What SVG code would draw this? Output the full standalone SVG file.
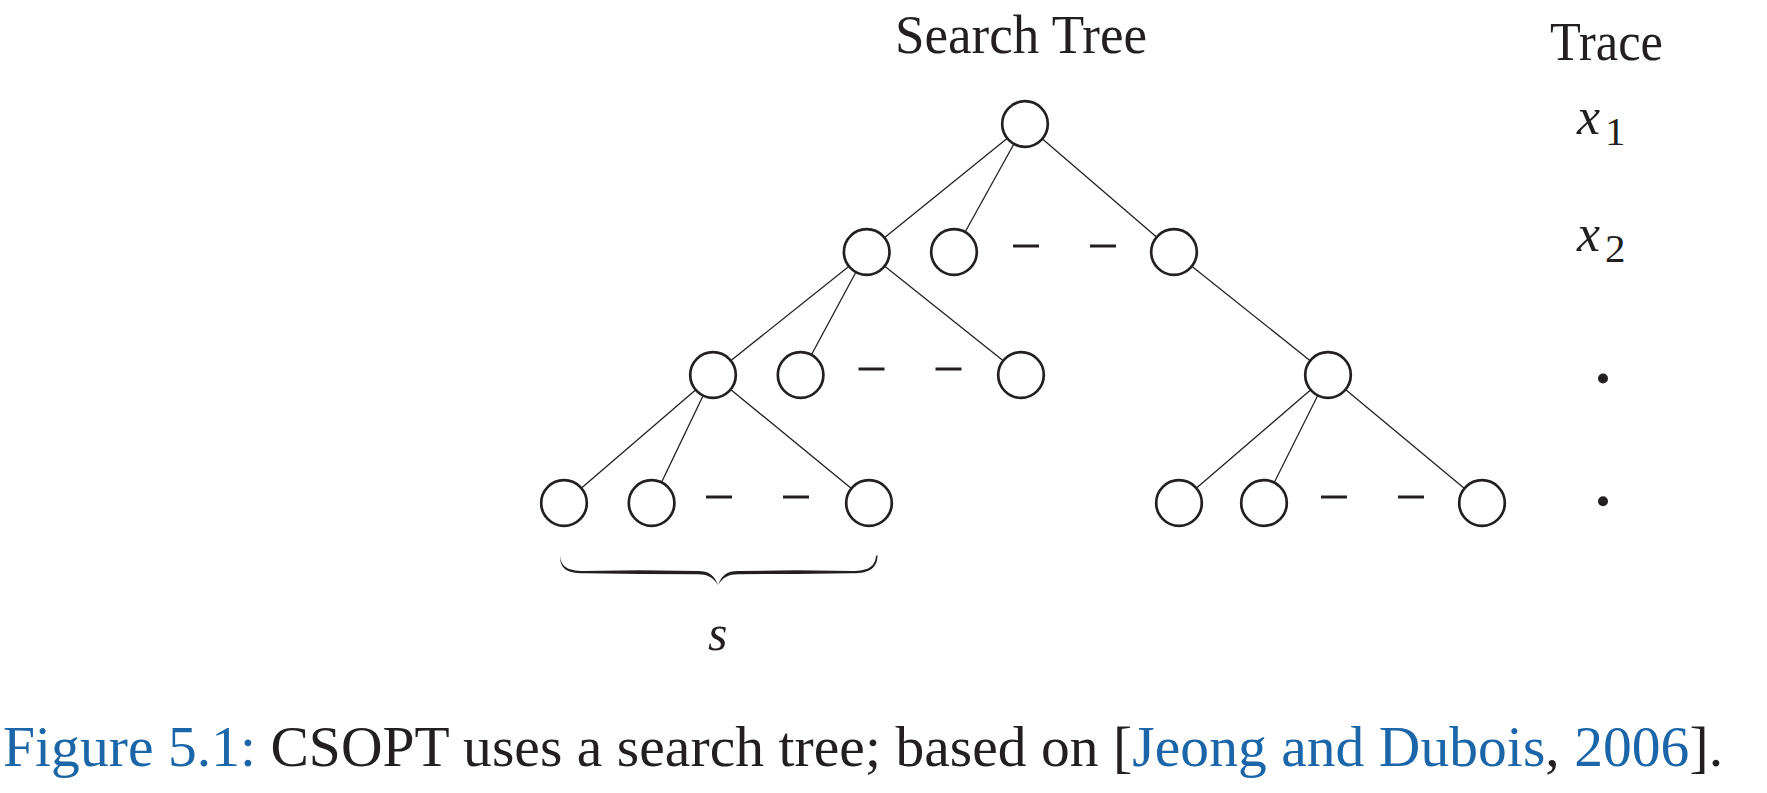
<svg xmlns="http://www.w3.org/2000/svg" width="1767" height="793" viewBox="0 0 1767 793">
  <style>
    .node { fill: #ffffff; stroke: #231f20; stroke-width: 2.7; }
    .edge { stroke: #231f20; stroke-width: 1.3; fill: none; }
    .dash { stroke: #231f20; stroke-width: 3; }
    .serif { font-family: "Liberation Serif", "Times New Roman", serif; fill: #231f20; }
    .math { font-family: "Liberation Serif", "Times New Roman", serif; font-style: italic; fill: #231f20; }
    .sub { font-family: "Liberation Serif", "Times New Roman", serif; fill: #231f20; }
    .blue { fill: #1a66a8; }
  </style>
  <rect width="1767" height="793" fill="#ffffff"/>

  <!-- headings -->
  <text class="serif" x="895" y="53" font-size="55" textLength="252" lengthAdjust="spacingAndGlyphs">Search Tree</text>
  <text class="serif" x="1550" y="60" font-size="55" textLength="113" lengthAdjust="spacingAndGlyphs">Trace</text>

  <!-- connectors -->
  <g id="connectors">
    <line class="edge" x1="1006.7" y1="138.8" x2="885.0" y2="237.2"/>
    <line class="edge" x1="1013.6" y1="144.5" x2="965.4" y2="231.5"/>
    <line class="edge" x1="1042.8" y1="139.3" x2="1156.2" y2="236.7"/>
    <line class="edge" x1="848.4" y1="266.7" x2="731.3" y2="360.3"/>
    <line class="edge" x1="855.6" y1="272.7" x2="811.7" y2="354.3"/>
    <line class="edge" x1="885.1" y1="266.6" x2="1002.6" y2="360.3"/>
    <line class="edge" x1="1192.4" y1="266.7" x2="1309.6" y2="360.3"/>
    <line class="edge" x1="695.2" y1="390.3" x2="581.8" y2="487.7"/>
    <line class="edge" x1="702.8" y1="396.2" x2="661.8" y2="481.8"/>
    <line class="edge" x1="731.2" y1="389.9" x2="850.8" y2="488.1"/>
    <line class="edge" x1="1310.2" y1="390.3" x2="1196.8" y2="487.7"/>
    <line class="edge" x1="1317.5" y1="396" x2="1274.5" y2="482"/>
    <line class="edge" x1="1346.1" y1="390" x2="1463.9" y2="488"/>
  </g>

  <!-- elided siblings -->
  <g id="ellipses">
    <line class="dash" x1="1013" y1="246" x2="1039" y2="246"/>
    <line class="dash" x1="1090" y1="246" x2="1116" y2="246"/>
    <line class="dash" x1="858.5" y1="369" x2="884.5" y2="369"/>
    <line class="dash" x1="935.5" y1="369" x2="961.5" y2="369"/>
    <line class="dash" x1="706" y1="497" x2="732" y2="497"/>
    <line class="dash" x1="783" y1="497" x2="809" y2="497"/>
    <line class="dash" x1="1321" y1="497" x2="1347" y2="497"/>
    <line class="dash" x1="1398" y1="497" x2="1424" y2="497"/>
  </g>

  <!-- tree nodes -->
  <g id="root"><circle class="node" cx="1025" cy="124" r="22.8"/></g>
  <g id="n2a"><circle class="node" cx="866.7" cy="252" r="22.8"/></g>
  <g id="n2b"><circle class="node" cx="954" cy="252" r="22.8"/></g>
  <g id="n2c"><circle class="node" cx="1174" cy="252" r="22.8"/></g>
  <g id="n3a"><circle class="node" cx="713" cy="375" r="22.8"/></g>
  <g id="n3b"><circle class="node" cx="800.6" cy="375" r="22.8"/></g>
  <g id="n3c"><circle class="node" cx="1021" cy="375" r="22.8"/></g>
  <g id="n3d"><circle class="node" cx="1328" cy="375" r="22.8"/></g>
  <g id="n4a"><circle class="node" cx="564" cy="503" r="22.8"/></g>
  <g id="n4b"><circle class="node" cx="651.6" cy="503" r="22.8"/></g>
  <g id="n4c"><circle class="node" cx="869" cy="503" r="22.8"/></g>
  <g id="n4d"><circle class="node" cx="1179" cy="503" r="22.8"/></g>
  <g id="n4e"><circle class="node" cx="1264" cy="503" r="22.8"/></g>
  <g id="n4f"><circle class="node" cx="1482" cy="503" r="22.8"/></g>

  <!-- trace column -->
  <g id="trace">
    <text class="math" x="1577" y="133.5" font-size="52">x</text>
    <text class="sub" x="1605" y="144.7" font-size="41">1</text>
    <text class="math" x="1577" y="251" font-size="52">x</text>
    <text class="sub" x="1605" y="262" font-size="41">2</text>
    <circle cx="1603" cy="378.5" r="5" fill="#231f20"/>
    <circle cx="1603" cy="501.3" r="5" fill="#231f20"/>
  </g>

  <!-- underbrace spanning the children -->
  <g id="brace">
    <path fill="#231f20" d="M560,556 C561,566 567,571 584,571 L640,570.2 L698,571 C709,571 714,575 718,585 C713,577 707,574.2 698,574.2 L640,574 L584,573.3 C566,573.3 560,568 560,556 Z"/>
    <path fill="#231f20" d="M876,556 C875,566 869,571 852,571 L796,570.2 L738,571 C727,571 722,575 718,585 C723,577 729,574.2 738,574.2 L796,574 L852,573.3 C871,573.3 877.5,567 877.5,555 Z"/>
    <text class="math" x="708" y="650" font-size="50">s</text>
  </g>

  <!-- caption -->
  <text class="serif" x="3" y="766" font-size="57.5" textLength="1720" lengthAdjust="spacing"><tspan class="blue">Figure 5.1:</tspan> CSOPT uses a search tree; based on [<tspan class="blue">Jeong and Dubois</tspan>, <tspan class="blue">2006</tspan>].</text>
</svg>
